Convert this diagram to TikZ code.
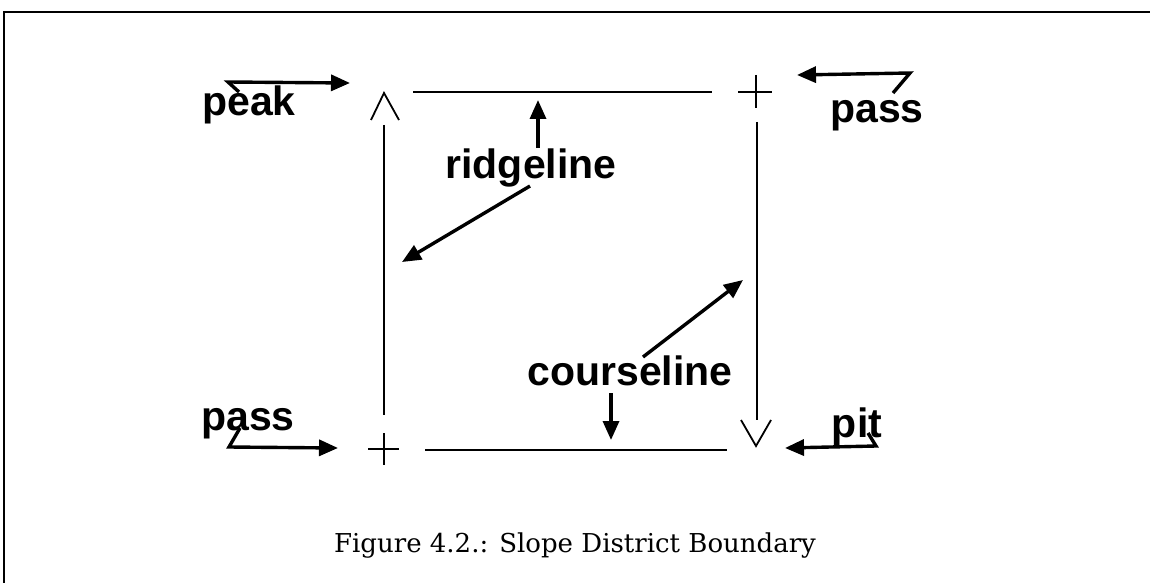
\documentclass[tikz,border=0pt]{standalone}
\usepackage{fontspec}
\setmainfont{Liberation Sans}
\newfontfamily\capfont{DejaVu Serif}
\usetikzlibrary{arrows.meta}
\tikzset{
  lbl/.style={anchor=base, inner sep=0pt, font=\fontsize{20.5}{24}\selectfont\bfseries},
  captxt/.style={anchor=base, inner sep=0pt, font=\capfont\fontsize{13}{16}\selectfont},
  bound/.style={line width=1pt},
  symb/.style={line width=0.9pt},
  ptr/.style={line width=1.7pt, -{Triangle[length=9.5pt,width=8pt]}},
  framestyle/.style={line width=1.4pt}
}
\begin{document}
\begin{tikzpicture}[x=0.5pt,y=-0.5pt]
\useasboundingbox (0,0) rectangle (1150,583);
% frame
\coordinate (f1) at (4,583);
\coordinate (f2) at (4,12);
\coordinate (f3) at (1150,12);
\draw[framestyle] (f1) -- (f2) -- (f3);
% labels
\node[lbl] (peak) at (249,116) {peak};
\node[lbl] (passTR) at (877,122) {pass};
\node[lbl] (ridge) at (531,178) {ridgeline};
\node[lbl] (course) at (630,385) {courseline};
\node[lbl] (passBL) at (248,430) {pass};
\node[lbl] (pit) at (857,437) {pit};
\node[captxt] (caption) at (575,552) {Figure 4.2.: Slope District Boundary};
% peak symbol (caret)
\coordinate (pkL) at (371,120);
\coordinate (pkT) at (384,93);
\coordinate (pkR) at (399,120);
\draw[symb] (pkL) -- (pkT) -- (pkR);
% pass TR symbol (plus)
\coordinate (pTRc) at (756,92);
\draw[symb] ([xshift=-9pt]pTRc) -- ([xshift=8pt]pTRc);
\draw[symb] ([yshift=8.5pt]pTRc) -- ([yshift=-8pt]pTRc);
% pass BL symbol (plus)
\coordinate (pBLc) at (384,449);
\draw[symb] ([xshift=-8pt]pBLc) -- ([xshift=7.5pt]pBLc);
\draw[symb] ([yshift=8pt]pBLc) -- ([yshift=-8pt]pBLc);
% pit symbol (V)
\coordinate (ptL) at (741,420);
\coordinate (ptB) at (756,446);
\coordinate (ptR) at (771,420);
\draw[symb] (ptL) -- (ptB) -- (ptR);
% boundary lines
\coordinate (topA) at (413,92);
\coordinate (topB) at (712,92);
\draw[bound] (topA) -- (topB);
\coordinate (rightA) at (757,122);
\coordinate (rightB) at (757,420);
\draw[bound] (rightA) -- (rightB);
\coordinate (leftA) at (384,125);
\coordinate (leftB) at (384,415);
\draw[bound] (leftA) -- (leftB);
\coordinate (botA) at (425,450);
\coordinate (botB) at (727,450);
\draw[bound] (botA) -- (botB);
% pointer arrows
\coordinate (pkH1) at (239,92);
\coordinate (pkH2) at (228,82);
\coordinate (pkTip) at (350,83);
\draw[ptr] (pkH1) -- (pkH2) -- (pkTip);
\coordinate (trH1) at (893,93);
\coordinate (trH2) at (910,73);
\coordinate (trTip) at (797,75);
\draw[ptr] (trH1) -- (trH2) -- (trTip);
\coordinate (rgUp0) at (538,148);
\coordinate (rgUpTip) at (538,100);
\draw[ptr] (rgUp0) -- (rgUpTip);
\coordinate (rgD0) at (530,186);
\coordinate (rgDTip) at (402,262);
\draw[ptr] (rgD0) -- (rgDTip);
\coordinate (csD0) at (643,357);
\coordinate (csDTip) at (743,280);
\draw[ptr] (csD0) -- (csDTip);
\coordinate (csDn0) at (611,393);
\coordinate (csDnTip) at (611,440);
\draw[ptr] (csDn0) -- (csDnTip);
\coordinate (blH1) at (240,428);
\coordinate (blH2) at (229,447);
\coordinate (blTip) at (338,448);
\draw[ptr] (blH1) -- (blH2) -- (blTip);
\coordinate (ptH1) at (868,433);
\coordinate (ptH2) at (876,446);
\coordinate (ptTip) at (785,448);
\draw[ptr] (ptH1) -- (ptH2) -- (ptTip);
\end{tikzpicture}
\end{document}
